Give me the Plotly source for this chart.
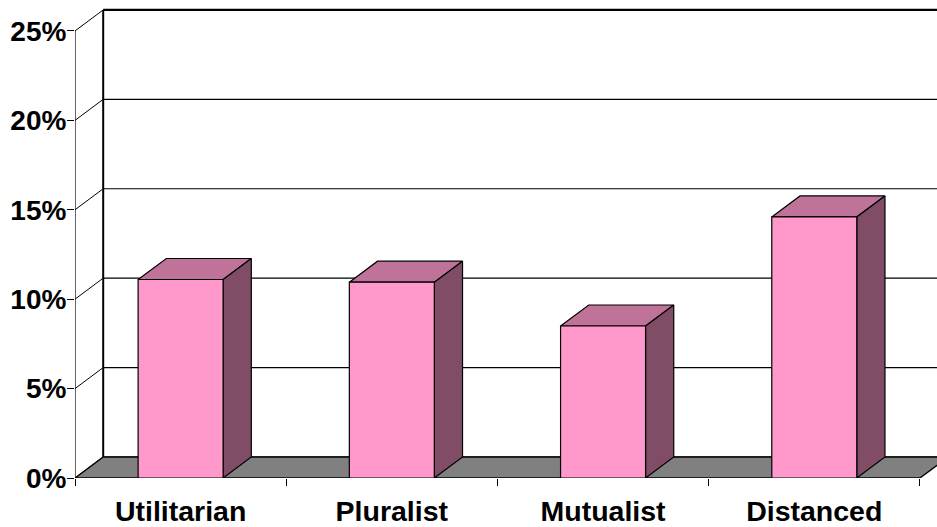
import plotly.graph_objects as go

categories = ["Utilitarian", "Pluralist", "Mutualist", "Distanced"]
values = [11.1, 10.95, 8.5, 14.6]
y_ticks = [0, 5, 10, 15, 20, 25]
y_labels = ["0%", "5%", "10%", "15%", "20%", "25%"]

FRONT, TOP, SIDE = "#FF99CC", "#BF7399", "#804C66"
FLOOR = "#808080"
DX, DY = 0.1335, 1.175      # oblique depth in axis units
HALF = 0.2012               # half bar width
XMAX, YMAX = 4.081, 26.73
N = len(categories)

fig = go.Figure()


def poly(xs, ys, fill, lw=1.2, color="black"):
    fig.add_trace(go.Scatter(
        x=list(xs) + [xs[0]], y=list(ys) + [ys[0]], mode="lines",
        fill="toself", fillcolor=fill, line=dict(color=color, width=lw),
        hoverinfo="skip", showlegend=False))


def line(xs, ys, lw=1.0):
    fig.add_trace(go.Scatter(
        x=xs, y=ys, mode="lines", line=dict(color="black", width=lw),
        hoverinfo="skip", showlegend=False))


# back wall gridlines and left-wall diagonals
for t in y_ticks:
    lw = 2.2 if t == y_ticks[-1] else 1.2
    line([DX, XMAX + 1], [t + DY, t + DY], lw)
    line([0, DX], [t, t + DY], 1.0)
# wall verticals
line([DX, DX], [DY, y_ticks[-1] + DY], 2.0)
line([0, 0], [0, y_ticks[-1]], 1.2)
# floor
poly([0, N, N + DX, DX], [0, 0, DY, DY], FLOOR, 1.4)

# bars
for i, v in enumerate(values):
    c = i + 0.5
    l, r = c - HALF, c + HALF
    poly([l, r, r + DX, l + DX], [v, v, v + DY, v + DY], TOP)
    poly([r, r + DX, r + DX, r], [0, DY, v + DY, v], SIDE)
    poly([l, r, r, l], [0, 0, v, v], FRONT)

fig.update_layout(
    width=937, height=527, autosize=False,
    margin=dict(l=75, r=0, t=0, b=49, pad=0, autoexpand=False),
    paper_bgcolor="white", plot_bgcolor="white",
    showlegend=False,
    font=dict(family="Liberation Sans, Arial, sans-serif", color="black"),
    xaxis=dict(
        range=[0, XMAX], showgrid=False, zeroline=False, showline=False,
        automargin=False,
        tickmode="array", tickvals=[i + 0.5 for i in range(N)],
        ticktext=categories, ticks="outside", ticklen=0,
        tickcolor="rgba(0,0,0,0)", ticklabelstandoff=8,
        tickfont=dict(size=28.5, family="Liberation Sans, Arial, sans-serif", weight="bold"),
        minor=dict(tickmode="array", tickvals=list(range(N + 1)),
                   ticks="outside", ticklen=7, tickwidth=1, tickcolor="black", showgrid=False),
    ),
    yaxis=dict(
        range=[0, YMAX], showgrid=False, zeroline=False, showline=False,
        automargin=False,
        tickmode="array", tickvals=y_ticks, ticktext=y_labels,
        ticks="outside", ticklen=7, tickwidth=1, tickcolor="black",
        ticklabelstandoff=-5,
        tickfont=dict(size=28, family="Liberation Sans, Arial, sans-serif", weight="bold"),
    ),
)
fig.write_html("out.html", config={"displayModeBar": False},
               post_script="document.body.style.margin='0';")
